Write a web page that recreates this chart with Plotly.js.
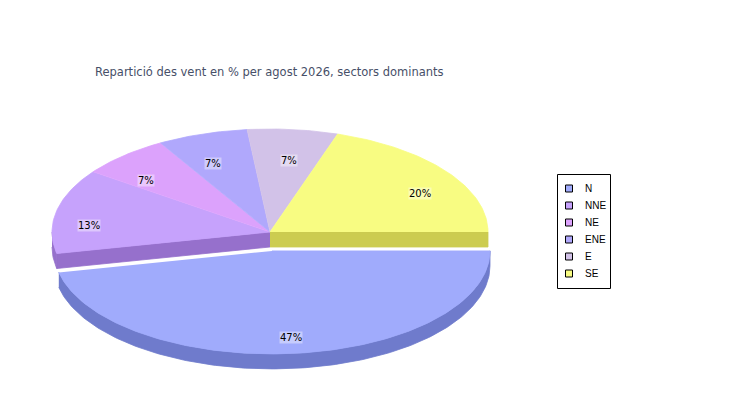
<!DOCTYPE html>
<html>
<head>
<meta charset="utf-8">
<script src="https://cdn.plot.ly/plotly-3.0.1.min.js"></script>
<style>body{margin:0;background:#fff}</style>
</head>
<body>
<div id="graph" style="width:750px;height:400px"></div>
<script>
// wind sectors and their share (%) for the month
const sectors = ['N', 'NNE', 'NE', 'ENE', 'E', 'SE'];
const percents = [46.7, 13.3, 6.7, 6.7, 6.7, 20.0];
const exploded = ['N'];

const topColors = ['#a0abfc', '#c6a2fc', '#dca2fc', '#b0a8fc', '#d2c2e8', '#f8fc82'];
const sideColors = ['#6f7bcc', '#9670cc', '#aa72cc', '#8078cc', '#a292ba', '#cccc50'];

main();

function main() {
    // pie geometry, in pixels (axes are 1 unit = 1 px)
    const cx = 270, cy = 232, rx = 218, ry = 103, depth = 15, explodeDist = 19;
    const total = percents.reduce((a, b) => a + b, 0);

    // slices go clockwise from 0 deg
    let slices = [];
    let cum = 0;
    for (let i = 0; i < sectors.length; i++) {
        let a0 = -cum / total * 360;
        cum += percents[i];
        let a1 = -cum / total * 360;
        let mid = (a0 + a1) / 2;
        let ex = exploded.includes(sectors[i]);
        let ox = cx + (ex ? explodeDist * Math.cos(rad(mid)) : 0);
        let oy = cy - (ex ? explodeDist * Math.sin(rad(mid)) : 0);
        slices.push({i: i, a0: a0, a1: a1, mid: mid, ex: ex, ox: ox, oy: oy});
    }

    let traces = [];
    let annotations = [];

    // draw main body first, exploded pieces after (they sit in front)
    for (let pass of [false, true]) {
        let group = slices.filter(s => s.ex === pass);
        // sides
        for (let s of group) {
            let pt = (a, d) => [s.ox + rx * Math.cos(rad(a)), s.oy - ry * Math.sin(rad(a)) + d];
            // outer rim, only the lower half is seen
            for (let k = -2; k <= 0; k++) {
                let lo = Math.max(s.a1, -180 + 360 * k), hi = Math.min(s.a0, 360 * k);
                if (hi <= lo) continue;
                let xs = [], ys = [];
                for (let a = lo; a <= hi; a += 1) { let p = pt(a, 0); xs.push(p[0]); ys.push(p[1]); }
                let p = pt(hi, 0); xs.push(p[0]); ys.push(p[1]);
                p = pt(hi, depth); xs.push(p[0]); ys.push(p[1]);
                for (let a = hi; a >= lo; a -= 1) { let q = pt(a, depth); xs.push(q[0]); ys.push(q[1]); }
                p = pt(lo, depth); xs.push(p[0]); ys.push(p[1]);
                traces.push(poly(xs, ys, sideColors[s.i]));
            }
            // flat cut faces next to an exploded neighbour
            let n = slices.length;
            let faces = [
                {a: s.a1, normal: s.a1 - 90, nb: slices[(s.i + 1) % n]},
                {a: s.a0, normal: s.a0 + 90, nb: slices[(s.i - 1 + n) % n]}
            ];
            for (let f of faces) {
                if (!(s.ex || f.nb.ex)) continue;
                if (Math.sin(rad(f.normal)) >= 0) continue;
                let e = pt(f.a, 0), e2 = pt(f.a, depth);
                traces.push(poly([s.ox, e[0], e2[0], s.ox], [s.oy, e[1], e2[1], s.oy + depth], sideColors[s.i]));
            }
        }
        // tops
        for (let s of group) {
            let xs = [s.ox], ys = [s.oy];
            for (let a = s.a0; a >= s.a1; a -= 1) {
                xs.push(s.ox + rx * Math.cos(rad(a)));
                ys.push(s.oy - ry * Math.sin(rad(a)));
            }
            xs.push(s.ox + rx * Math.cos(rad(s.a1)));
            ys.push(s.oy - ry * Math.sin(rad(s.a1)));
            traces.push(poly(xs, ys, topColors[s.i]));

            annotations.push({
                x: s.ox + 0.85 * rx * Math.cos(rad(s.mid)),
                y: s.oy + (s.ex ? 5 : 10) - 0.8 * ry * Math.sin(rad(s.mid)),
                xref: 'x', yref: 'y',
                text: Math.round(percents[s.i] / total * 100) + '%',
                showarrow: false,
                font: {family: 'DejaVu Sans', size: 10, color: '#000'},
                bgcolor: 'rgba(255,255,255,0.4)',
                borderpad: 0
            });
        }
    }

    // legend box
    let shapes = [{
        type: 'rect', xref: 'x', yref: 'y', x0: 557.5, x1: 610.5, y0: 174.5, y1: 288.5,
        line: {color: '#000', width: 1}, fillcolor: '#fff'
    }];
    for (let i = 0; i < sectors.length; i++) {
        let yc = 188.5 + 17 * i;
        shapes.push({
            type: 'rect', xref: 'x', yref: 'y', x0: 565.5, x1: 572.5, y0: yc - 3.5, y1: yc + 3.5,
            line: {color: '#000', width: 1}, fillcolor: topColors[i]
        });
        annotations.push({
            x: 583, y: yc, xref: 'x', yref: 'y', xanchor: 'left', yanchor: 'middle',
            text: sectors[i], showarrow: false,
            font: {family: 'Liberation Sans', size: 10, color: '#000'}
        });
    }

    let layout = {
        width: 750, height: 400,
        margin: {l: 0, r: 0, t: 0, b: 0},
        paper_bgcolor: '#fff', plot_bgcolor: '#fff',
        title: {
            text: 'Repartició des vent en % per agost 2026, sectors dominants',
            x: 95 / 750, xanchor: 'left', xref: 'paper',
            y: 1 - 72 / 400, yanchor: 'middle', yref: 'paper',
            font: {family: 'DejaVu Sans', size: 11.5, color: '#474f68'}
        },
        xaxis: {range: [0, 750], visible: false, fixedrange: true},
        yaxis: {range: [400, 0], visible: false, fixedrange: true},
        showlegend: false,
        shapes: shapes,
        annotations: annotations
    };
    Plotly.newPlot('graph', traces, layout, {displayModeBar: false, staticPlot: true});
}

function rad(d) {
    return d * Math.PI / 180;
}

function poly(xs, ys, color) {
    return {
        x: xs, y: ys, type: 'scatter', mode: 'lines', fill: 'toself',
        fillcolor: color, line: {color: color, width: 0.8},
        hoverinfo: 'skip', showlegend: false
    };
}
</script>
</body>
</html>
